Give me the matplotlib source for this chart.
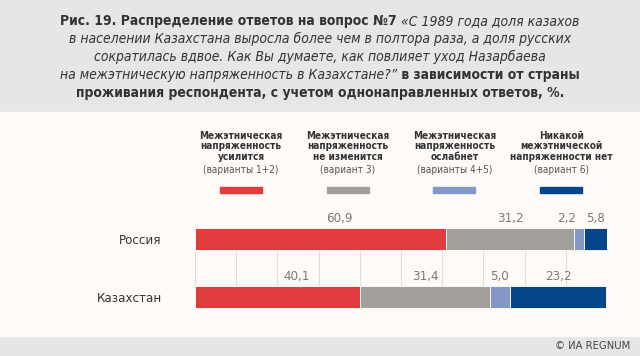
import numpy as np
import matplotlib
matplotlib.use("Agg")
import matplotlib.pyplot as plt
from matplotlib.patches import Rectangle

# ── данные ─────────────────────────────────────────────────────────────
countries = ["Россия", "Казахстан"]
up = [60.9, 40.1]          # усилится (1+2)
same = [31.2, 31.4]        # не изменится (3)
down = [2.2, 5.0]          # ослабнет (4+5)
none_ = [5.8, 23.2]        # напряженности нет (6)

legend_bold = [
    "Межэтническая\nнапряженность\nусилится",
    "Межэтническая\nнапряженность\nне изменится",
    "Межэтническая\nнапряженность\nослабнет",
    "Никакой\nмежэтнической\nнапряженности нет",
]
legend_note = ["(варианты 1+2)", "(вариант 3)", "(варианты 4+5)", "(вариант 6)"]

COLORS = ["#e03c3e", "#a39f9a", "#8498c8", "#05458a"]
HEAD_BG = "#e6e6e6"
PANEL_BG = "#fdfaf8"
TXT = "#333333"

plt.rcParams["font.family"] = ["DejaVu Sans"]
plt.rcParams["font.stretch"] = "condensed"

W, H = 640, 356


def fx(px):
    return px / W


def fy(py):
    return 1 - py / H


fig = plt.figure(figsize=(W / 100, H / 100), dpi=100, facecolor=HEAD_BG)

# фон панели между шапкой и подвалом
fig.patches.append(Rectangle((0, fy(336)), 1, fy(112) - fy(336),
                             transform=fig.transFigure, color=PANEL_BG, zorder=-5))

# ── заголовок (смешанные стили в строке) ───────────────────────────────
title_lines = [
    [("Рис. 19. Распределение ответов на вопрос №7 ", "bold"),
     ("«С 1989 года доля казахов", "italic")],
    [("в населении Казахстана выросла более чем в полтора раза, а доля русских", "italic")],
    [("сократилась вдвое. Как Вы думаете, как повлияет уход Назарбаева", "italic")],
    [("на межэтническую напряженность в Казахстане?”", "italic"),
     (" в зависимости от страны", "bold")],
    [("проживания респондента, с учетом однонаправленных ответов, %.", "bold")],
]
renderer = fig.canvas.get_renderer()
for i, parts in enumerate(title_lines):
    y = fy(21 + i * 18)
    objs = []
    for s, st in parts:
        kw = dict(fontweight="bold") if st == "bold" else dict(fontstyle="italic")
        t = fig.text(0, y, s, fontsize=10, color=TXT, va="center", ha="left", **kw)
        objs.append(t)
    widths = [o.get_window_extent(renderer).width / W for o in objs]
    x = 0.5 - sum(widths) / 2
    for o, w in zip(objs, widths):
        o.set_x(x)
        x += w

# ── легенда ────────────────────────────────────────────────────────────
for i in range(4):
    cx = fx(241 + i * 106.7)
    fig.text(cx, fy(131), legend_bold[i], ha="center", va="top", fontsize=7.2,
             fontweight="bold", color=TXT, linespacing=1.05)
    fig.text(cx, fy(170), legend_note[i], ha="center", va="center", fontsize=7.2,
             color="#555555")
    fig.patches.append(Rectangle((cx - fx(21), fy(193)), fx(42), fy(187) - fy(193),
                                 transform=fig.transFigure, color=COLORS[i]))

# ── столбцы ────────────────────────────────────────────────────────────
ax = fig.add_axes([fx(195), fy(320), fx(412), fy(200) - fy(320)])
ax.set_facecolor("none")
ax.set_xlim(0, 100)
ax.set_ylim(1.397, -0.672)

ypos = np.arange(len(countries))
ax.vlines(np.arange(0, 101, 10), 0.19, 0.81, color="#e2ddd8", lw=0.8, zorder=0)

series = [up, same, down, none_]
left = np.zeros(len(countries))
for k, vals in enumerate(series):
    vals = np.array(vals)
    ax.barh(ypos, vals, left=left, height=0.38, color=COLORS[k],
            edgecolor="white", linewidth=0.6, zorder=2)
    for j, v in enumerate(vals):
        if k == 0:
            xl, ha = left[j] + v / 2 + 4.6, "center"
        elif v < 3:
            xl, ha = left[j] + 0.5, "right"
        else:
            xl, ha = left[j] + v / 2, "center"
        ax.text(xl, ypos[j] - 0.36, f"{v:.1f}".replace(".", ","), ha=ha, va="center",
                fontsize=9.5, color="#7a7a7a")
    left += vals

ax.set_yticks(ypos)
ax.set_yticklabels(countries, fontsize=9.5, color=TXT)
ax.tick_params(axis="y", length=0, pad=24)
ax.set_xticks([])
for sp in ax.spines.values():
    sp.set_visible(False)

fig.text(fx(630), fy(346), "© ИА REGNUM", ha="right", va="center", fontsize=8,
         color="#444444")

fig.savefig("out.png", dpi=100, facecolor=HEAD_BG)
